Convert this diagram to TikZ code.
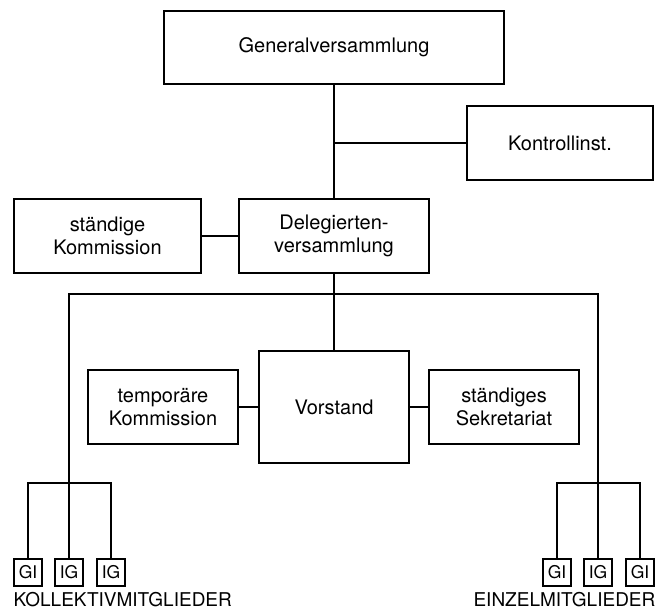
\documentclass[tikz,border=0pt]{standalone}
\usepackage{fontspec}
\setmainfont{TeX Gyre Heros}
\begin{document}
\begin{tikzpicture}[x=1pt,y=-1pt,line width=1.3pt,
  box/.style={draw,inner sep=0pt,outer sep=0pt,align=center,
    font=\fontsize{20}{22.5}\selectfont},
  mbox/.style={draw,inner sep=0pt,outer sep=0pt,minimum width=28pt,minimum height=27pt,
    font=\fontsize{17.5}{19}\selectfont},
  lbl/.style={inner sep=0pt,anchor=base,font=\fontsize{19}{22}\selectfont}]
\useasboundingbox (0,0) rectangle (665,610);
\node[box,minimum width=340pt,minimum height=73pt] (gv) at (334,47.5) {Generalversammlung};
\node[box,minimum width=186pt,minimum height=74pt] (ki) at (560,143) {Kontrollinst.};
\node[box,minimum width=187pt,minimum height=74pt] (sk) at (107.5,236) {ständige\\Kommission};
\node[box,minimum width=190pt,minimum height=74pt] (dv) at (334,236) {Delegierten-\\versammlung};
\node[box,minimum width=150pt,minimum height=112pt] (vs) at (334,407) {Vorstand};
\node[box,minimum width=150pt,minimum height=74pt] (tk) at (163,407) {temporäre\\Kommission};
\node[box,minimum width=150pt,minimum height=74pt] (ss) at (504,407) {ständiges\\Sekretariat};
\node[mbox] (k1) at (28,572.5) {GI};
\node[mbox] (k2) at (69,572.5) {IG};
\node[mbox] (k3) at (111,572.5) {IG};
\node[mbox] (e1) at (557,572.5) {GI};
\node[mbox] (e2) at (598,572.5) {IG};
\node[mbox] (e3) at (640,572.5) {GI};
\node[lbl,anchor=base west] (kl) at (13,606) {KOLLEKTIVMITGLIEDER};
\node[lbl,anchor=base east] (el) at (656,606) {EINZELMITGLIEDER};
\coordinate (j1) at (334,143);
\coordinate (bl) at (69,294);
\coordinate (br) at (598,294);
\coordinate (kb) at (69,483);
\coordinate (eb) at (598,483);
\draw (gv.south) -- (dv.north);
\draw (ki.west) -- (j1);
\draw (sk.east) -- (dv.west);
\draw (dv.south) -- (vs.north);
\draw (tk.east) -- (vs.west);
\draw (vs.east) -- (ss.west);
\draw (kb) -- (bl) -- (br) -- (eb);
\draw (k2.north) -- (kb);
\draw (k1.north) |- (kb) -| (k3.north);
\draw (e2.north) -- (eb);
\draw (e1.north) |- (eb) -| (e3.north);
\end{tikzpicture}
\end{document}
